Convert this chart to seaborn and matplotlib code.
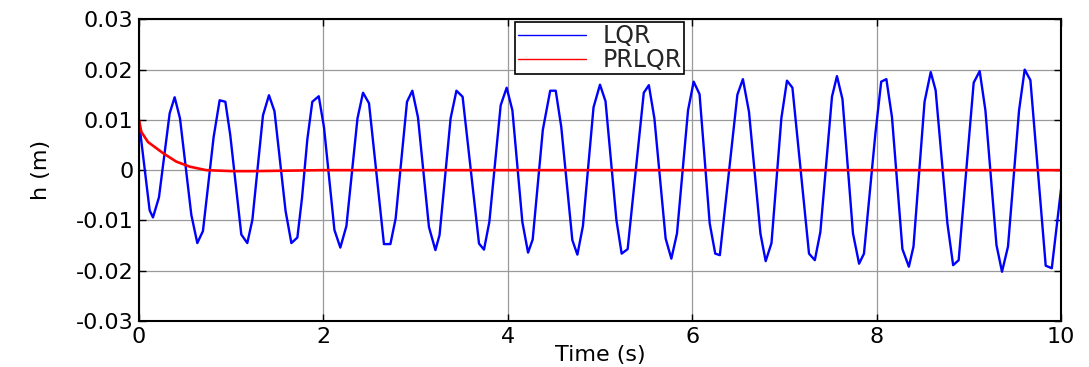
import numpy as np
import pandas as pd
import matplotlib
matplotlib.use("Agg")
import matplotlib.pyplot as plt
import seaborn as sns
from matplotlib.ticker import FuncFormatter

# ---- data ----
lqr_t = [0.0, 0.116, 0.152, 0.217, 0.333, 0.387, 0.445, 0.568, 0.633, 0.694,
         0.81, 0.875, 0.937, 0.99, 1.11, 1.175, 1.23, 1.345, 1.41, 1.47,
         1.59, 1.653, 1.718, 1.768, 1.826, 1.88, 1.95, 2.007, 2.12, 2.184,
         2.25, 2.37, 2.43, 2.495, 2.657, 2.727, 2.784, 2.907, 2.965, 3.026,
         3.145, 3.215, 3.26, 3.38, 3.443, 3.51, 3.688, 3.742, 3.80, 3.923,
         3.988, 4.05, 4.158, 4.22, 4.27, 4.38, 4.46, 4.52, 4.58, 4.70,
         4.755, 4.815, 4.93, 5.0, 5.06, 5.178, 5.235, 5.30, 5.475, 5.53,
         5.59, 5.712, 5.774, 5.835, 5.955, 6.016, 6.08, 6.19, 6.25, 6.30,
         6.49, 6.55, 6.616, 6.74, 6.797, 6.86, 6.967, 7.028, 7.087, 7.267,
         7.33, 7.39, 7.516, 7.57, 7.63, 7.744, 7.81, 7.863, 7.987, 8.05,
         8.106, 8.167, 8.28, 8.35, 8.40, 8.52, 8.587, 8.64, 8.768, 8.83,
         8.89, 9.053, 9.118, 9.18, 9.30, 9.36, 9.425, 9.545, 9.606, 9.668,
         9.834, 9.90, 10.0]
lqr_h = [0.0097, -0.0080, -0.0094, -0.0054, 0.0113, 0.0145, 0.0103, -0.0089, -0.0145, -0.0121,
         0.0066, 0.0139, 0.0136, 0.0070, -0.0128, -0.0145, -0.0099, 0.0109, 0.0149, 0.0117,
         -0.0081, -0.0145, -0.0134, -0.0056, 0.0061, 0.0136, 0.0147, 0.0085, -0.0119, -0.0154,
         -0.0111, 0.0103, 0.0154, 0.0133, -0.0147, -0.0147, -0.0096, 0.0136, 0.0158, 0.0105,
         -0.0113, -0.0159, -0.0129, 0.0103, 0.0158, 0.0146, -0.0146, -0.0158, -0.0103, 0.0129,
         0.0164, 0.0119, -0.0103, -0.0164, -0.0138, 0.0080, 0.0158, 0.0158, 0.0086, -0.0139,
         -0.0168, -0.0111, 0.0125, 0.0170, 0.0137, -0.0099, -0.0166, -0.0157, 0.0154, 0.0169,
         0.0103, -0.0136, -0.0176, -0.0126, 0.0119, 0.0176, 0.0151, -0.0106, -0.0166, -0.0169,
         0.0150, 0.0181, 0.0116, -0.0126, -0.0181, -0.0145, 0.0103, 0.0178, 0.0164, -0.0166,
         -0.0179, -0.0123, 0.0146, 0.0187, 0.0141, -0.0126, -0.0186, -0.0166, 0.0073, 0.0176,
         0.0181, 0.0105, -0.0157, -0.0192, -0.0152, 0.0136, 0.0195, 0.0159, -0.0106, -0.0189,
         -0.0179, 0.0174, 0.0197, 0.0119, -0.0149, -0.0202, -0.0152, 0.0119, 0.0200, 0.0179,
         -0.0190, -0.0195, -0.0038]

prlqr_t = [0.0, 0.026, 0.098, 0.26, 0.405, 0.55, 0.73, 1.02, 1.23, 1.6, 2.0, 3.0, 4.0, 6.0, 8.0, 10.0]
prlqr_h = [0.0100, 0.0076, 0.0056, 0.0034, 0.0017, 0.0007, 0.0000, -0.0002, -0.0002, -0.0001,
           0.0000, 0.0000, 0.0000, 0.0000, 0.0000, 0.0000]

x_ticks = [0, 2, 4, 6, 8, 10]
y_ticks = [-0.03, -0.02, -0.01, 0.0, 0.01, 0.02, 0.03]
series_names = ["LQR", "PRLQR"]

# ---- style ----
sns.set_theme(style="white")
plt.rcParams["font.family"] = ["DejaVu Sans"]

fig = plt.figure(figsize=(10.89, 3.67), dpi=100)
ax = fig.add_axes([0.1276, 0.1253, 0.8467, 0.8221])

df_lqr = pd.DataFrame({"t": lqr_t, "h": lqr_h})
df_pr = pd.DataFrame({"t": prlqr_t, "h": prlqr_h})

sns.lineplot(data=df_lqr, x="t", y="h", ax=ax, color="#0000ff", lw=1.7,
             label=series_names[0], estimator=None, sort=False)
sns.lineplot(data=df_pr, x="t", y="h", ax=ax, color="#ff0000", lw=1.9,
             label=series_names[1], estimator=None, sort=False)

ax.set_xlim(0, 10)
ax.set_ylim(-0.03, 0.03)
ax.set_xticks(x_ticks)
ax.set_yticks(y_ticks)
ax.xaxis.set_major_formatter(FuncFormatter(lambda v, p: "%g" % v))
ax.yaxis.set_major_formatter(FuncFormatter(lambda v, p: "0" if abs(v) < 1e-12 else "%.2f" % v))

ax.grid(True, color="#9a9a9a", lw=0.9, ls="-")
ax.set_axisbelow(True)
for s in ax.spines.values():
    s.set_color("black")
    s.set_linewidth(1.5)
    s.set_visible(True)

ax.tick_params(axis="both", which="major", direction="in", length=5, width=1,
               top=True, right=True, bottom=True, left=True,
               labelsize=16, colors="black", pad=4)
for lab in ax.get_xticklabels() + ax.get_yticklabels():
    lab.set_color("black")

ax.set_xlabel("Time (s)", fontsize=16, color="black", labelpad=-1)
ax.set_ylabel("h (m)", fontsize=16, color="black", labelpad=18)

leg = ax.legend(loc="upper center", bbox_to_anchor=(0.5, 1.0), fontsize=17,
                frameon=True, fancybox=False, edgecolor="black", framealpha=1,
                handlelength=2.9, borderpad=0.1, labelspacing=0.0,
                handletextpad=0.7, borderaxespad=0.1)
leg.get_frame().set_linewidth(1.2)
for line in leg.get_lines():
    line.set_linewidth(1.0)

fig.savefig("out.png", dpi=100, facecolor="white")
